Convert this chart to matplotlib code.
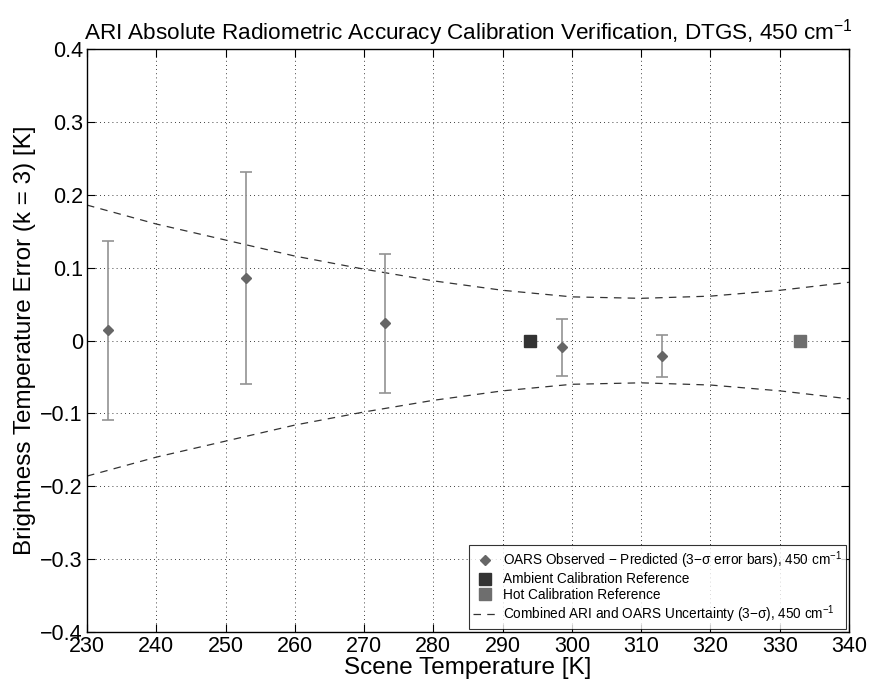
import numpy as np
import matplotlib
matplotlib.use("Agg")
import matplotlib.pyplot as plt

plt.rcParams['font.family'] = ['Liberation Sans', 'DejaVu Sans']
plt.rcParams['mathtext.fontset'] = 'custom'
plt.rcParams['mathtext.rm'] = 'Liberation Sans'
plt.rcParams['mathtext.it'] = 'Liberation Sans'

# OARS observed - predicted, with 3-sigma error bars
scene_temp = [233, 253, 273, 298.5, 313]
bt_error = [0.014, 0.086, 0.0235, -0.0095, -0.0215]
bt_sigma3 = [0.123, 0.146, 0.096, 0.039, 0.029]

# calibration references
ambient_temp = [294]
ambient_err = [0.0]
hot_temp = [333]
hot_err = [0.0]

# combined uncertainty envelope
unc_temp = [230, 240, 250, 260, 270, 280, 290, 300, 310, 320, 330, 340]
unc_val = [0.186, 0.160, 0.138, 0.116, 0.098, 0.082, 0.069, 0.060, 0.058, 0.061, 0.069, 0.080]

fig = plt.figure(figsize=(8.72, 6.83), dpi=100)
ax = fig.add_axes([0.0998, 0.0747, 0.8738, 0.8533])

ax.errorbar(scene_temp, bt_error, yerr=bt_sigma3, fmt='none', ecolor='#929292',
            elinewidth=1.2, capsize=4, capthick=1.2, zorder=3)
ax.plot(scene_temp, bt_error, 'D', color='#666666', markersize=5.5, linestyle='none',
        label=r'OARS Observed $-$ Predicted (3$-\sigma$ error bars), 450 cm$^{-1}$', zorder=4)
ax.plot(ambient_temp, ambient_err, 's', color='#333333', markersize=9, linestyle='none',
        label='Ambient Calibration Reference', zorder=4)
ax.plot(hot_temp, hot_err, 's', color='#6e6e6e', markersize=9, linestyle='none',
        label='Hot Calibration Reference', zorder=4)
unc = np.array(unc_val)
ax.plot(unc_temp, unc, '--', color='#333333', linewidth=0.9, dashes=(6, 5),
        label=r'Combined ARI and OARS Uncertainty (3$-\sigma$), 450 cm$^{-1}$', zorder=2)
ax.plot(unc_temp, -unc, '--', color='#333333', linewidth=0.9, dashes=(6, 5), zorder=2)

ax.set_xlim(230, 340)
ax.set_ylim(-0.4, 0.4)
ax.set_xticks(np.arange(230, 341, 10))
ax.set_yticks(np.arange(-0.4, 0.41, 0.1))
ax.set_yticklabels(['\u22120.4', '\u22120.3', '\u22120.2', '\u22120.1', '0',
                    '0.1', '0.2', '0.3', '0.4'])
ax.tick_params(direction='in', top=True, right=True, labelsize=15.5, length=6, width=0.8,
               pad=3)
ax.grid(True, linestyle=(0, (1, 4)), color='black', linewidth=0.6)
for s in ax.spines.values():
    s.set_linewidth(1.0)

ax.set_xlabel('Scene Temperature [K]', fontsize=17.5, labelpad=0)
ax.set_ylabel('Brightness Temperature Error (k = 3) [K]', fontsize=17.5, labelpad=3)
ax.set_title(r'ARI Absolute Radiometric Accuracy Calibration Verification, DTGS, 450 cm$^{-1}$',
             fontsize=16.2, pad=7)

leg = ax.legend(loc='lower right', fontsize=9.8, frameon=True, fancybox=False,
                edgecolor='black', borderaxespad=0.2, handlelength=1.8,
                handletextpad=0.4, labelspacing=0.12, borderpad=0.3)
leg.get_frame().set_linewidth(0.8)

fig.savefig('out.png', dpi=100)
